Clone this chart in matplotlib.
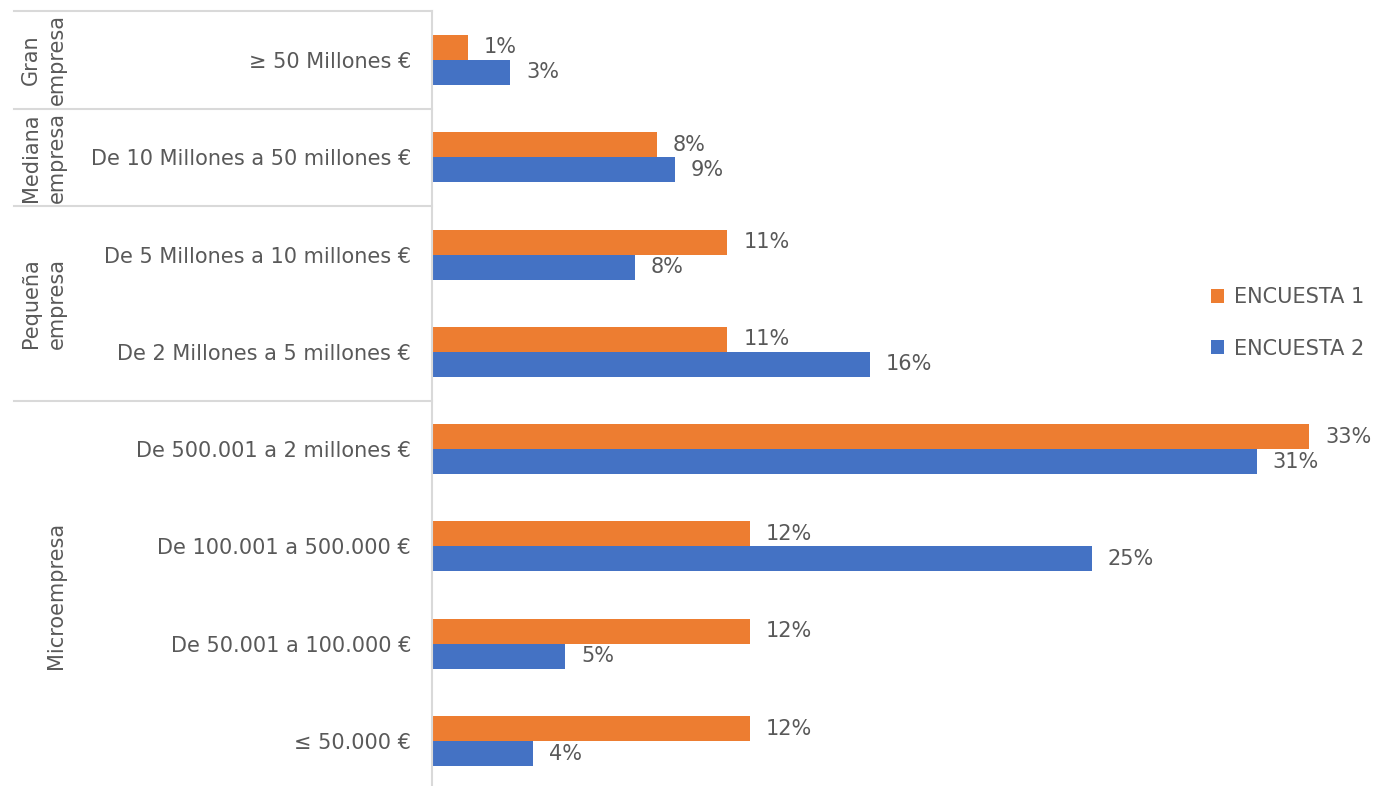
import matplotlib
matplotlib.use("Agg")
import matplotlib.pyplot as plt
import matplotlib.transforms as mtransforms
import numpy as np

categories = ["≥ 50 Millones €", "De 10 Millones a 50 millones €", "De 5 Millones a 10 millones €",
              "De 2 Millones a 5 millones €", "De 500.001 a 2 millones €", "De 100.001 a 500.000 €",
              "De 50.001 a 100.000 €", "≤ 50.000 €"]
encuesta1 = [1.35, 8.45, 11.1, 11.1, 32.97, 11.95, 11.95, 11.95]
encuesta2 = [2.93, 9.14, 7.63, 16.45, 31.0, 24.8, 5.0, 3.8]
series_names = ["ENCUESTA 1", "ENCUESTA 2"]
groups = ["Gran\nempresa", "Mediana\nempresa", "Pequeña\nempresa", "Microempresa"]
group_sizes = [1, 1, 2, 4]

ORANGE = "#ED7D31"
BLUE = "#4472C4"
TXT = "#595959"
GRID = "#D9D9D9"
FS = 15

plt.rcParams['font.family'] = ['DejaVu Sans']

W, H = 1390, 786
fig = plt.figure(figsize=(W / 100, H / 100), dpi=100)
top_px, bot_px = 11.35, 789.7
left_px = 432
xmax = 34
px_per = 26.6
ax = fig.add_axes([left_px / W, (H - bot_px) / H, xmax * px_per / W, (bot_px - top_px) / H])

n = len(categories)
y = np.arange(n)
bh = 0.257
b1 = ax.barh(y - bh / 2, encuesta1, height=bh, color=ORANGE, label=series_names[0])
b2 = ax.barh(y + bh / 2, encuesta2, height=bh, color=BLUE, label=series_names[1])

ax.set_ylim(n - 0.5, -0.5)
ax.set_xlim(0, xmax)

off = mtransforms.offset_copy(ax.transData, fig=fig, x=16, y=0, units='dots')
for yy, v in zip(y - bh / 2, encuesta1):
    ax.text(v, yy, f"{v:.0f}%", transform=off, ha='left', va='center', fontsize=FS, color=TXT)
for yy, v in zip(y + bh / 2, encuesta2):
    ax.text(v, yy, f"{v:.0f}%", transform=off, ha='left', va='center', fontsize=FS, color=TXT)

for s in ["top", "right", "bottom"]:
    ax.spines[s].set_visible(False)
ax.spines["left"].set_color(GRID)
ax.spines["left"].set_linewidth(1.5)
ax.set_xticks([])
ax.set_yticks(y)
ax.set_yticklabels(categories, fontsize=FS, color=TXT)
ax.tick_params(axis='y', length=0, pad=15)

# group separators and labels
trans = mtransforms.blended_transform_factory(fig.transFigure, ax.transData)
start = 0
bounds = [-0.5]
for g, sz in zip(groups, group_sizes):
    end = start + sz
    bounds.append(end - 0.5)
    center = (start + end - 1) / 2
    gx = 44 if "\n" in g else 56
    ax.text(gx / W, center, g, transform=trans, rotation=90, ha='center', va='center',
            fontsize=FS, color=TXT, multialignment='center', linespacing=1.35)
    start = end
for b in bounds[:-1]:
    ax.plot([14 / W, left_px / W], [b, b], transform=trans, color=GRID, lw=1.5, clip_on=False)

leg = ax.legend(handles=[b1, b2], loc='center left', bbox_to_anchor=(1192 / W, (H - 323) / H),
                bbox_transform=fig.transFigure, frameon=False, fontsize=FS,
                handlelength=0.65, handleheight=0.65, handletextpad=0.45, labelspacing=1.5)
for t in leg.get_texts():
    t.set_color(TXT)

fig.savefig("out.png", dpi=100)
